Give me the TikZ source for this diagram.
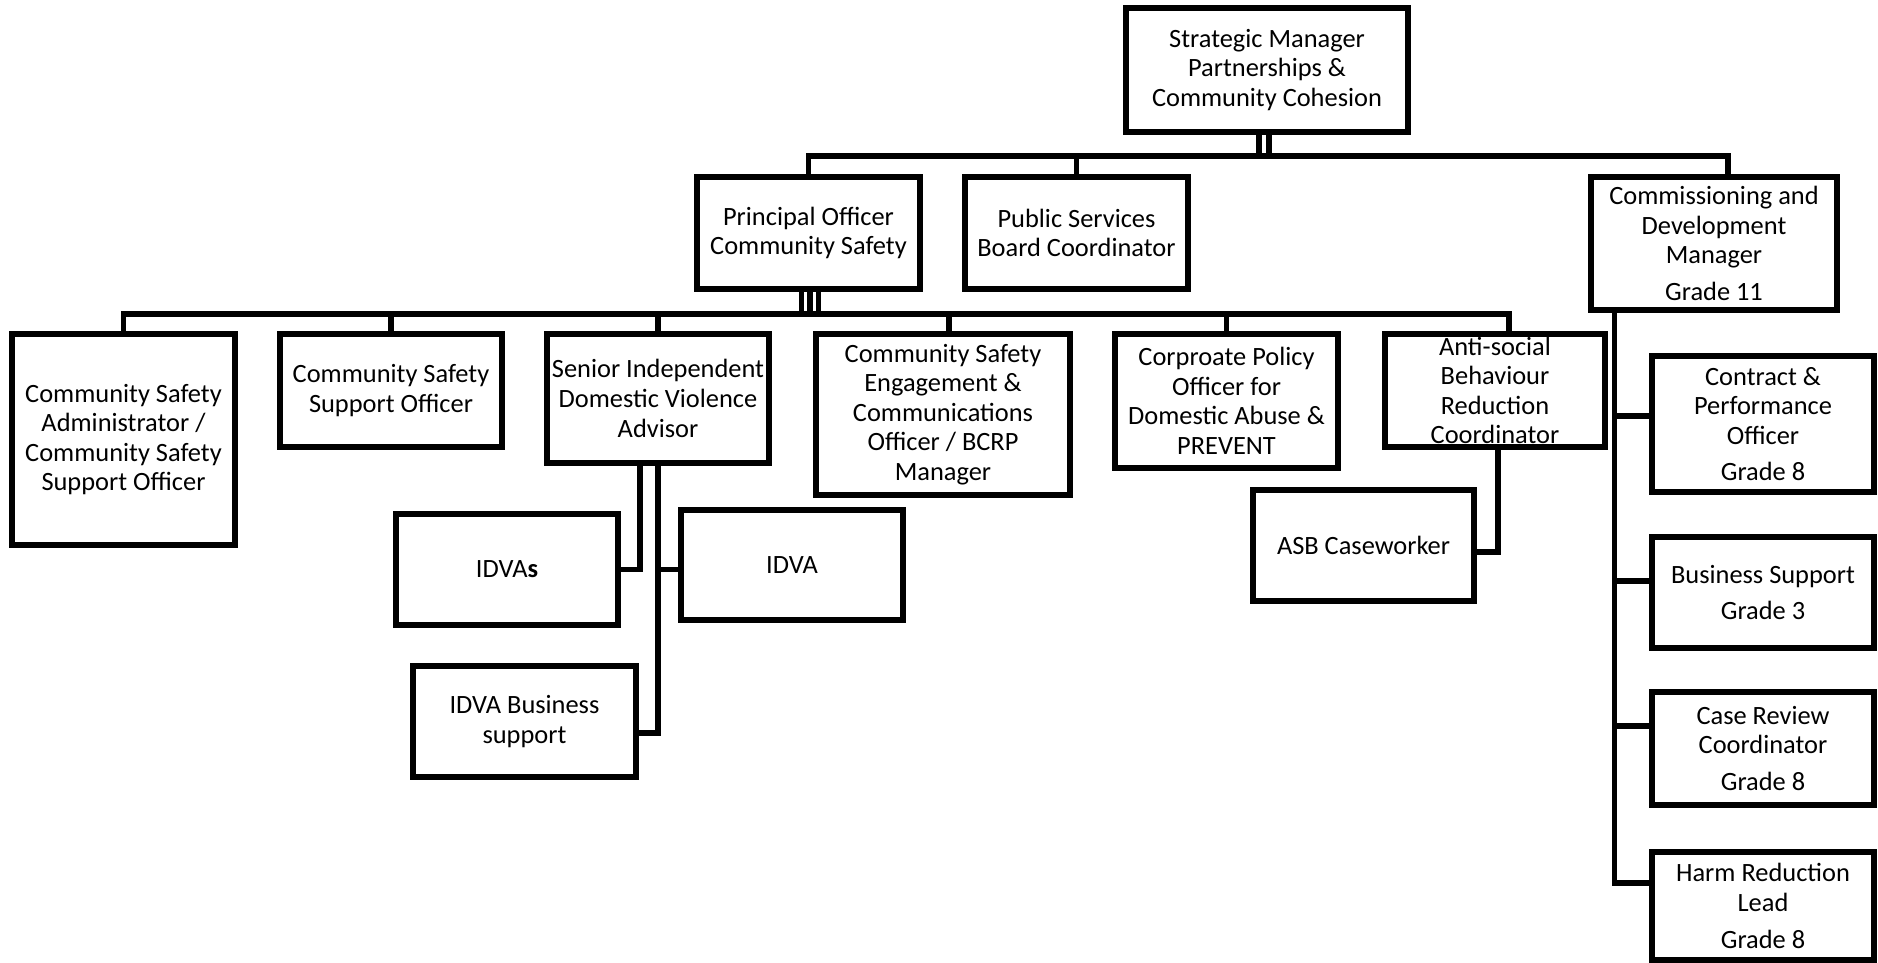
\documentclass[tikz,border=0pt]{standalone}
\usepackage{fontspec}
\setmainfont{Carlito}
\usetikzlibrary{calc}
\tikzset{
	post/.style={
			draw=black, line width=2.6pt, align=center, inner sep=0pt,
			font=\fontsize{13.2}{14.8}\selectfont
		},
	link/.style={black, line width=2.6pt}
}

\begin{document}
\begin{tikzpicture}[x=0.5pt, y=-0.5pt]
		\useasboundingbox (0,0) rectangle (1878,963);
		\node [post, minimum width=141pt, minimum height=62pt]		(strat) at (1267,70) {Strategic Manager\\Partnerships \&\\Community Cohesion};
		\node [post, minimum width=111.5pt, minimum height=56pt]	(principal) at (808.5,233) {Principal Officer\\Community Safety};
		\node [post, minimum width=111.5pt, minimum height=56pt]	(psb) at (1076.5,233) {Public Services\\Board Coordinator};
		\node [post, minimum width=123pt, minimum height=66.5pt]	(comm) at (1714,243.5) {Commissioning and\\Development\\Manager\\[3.5pt]Grade 11};
		\node [post, minimum width=111.5pt, minimum height=105.5pt]	(admin) at (123.5,439.5) {Community Safety\\Administrator /\\Community Safety\\Support Officer};
		\node [post, minimum width=111pt, minimum height=56.5pt]	(support) at (391,390.5) {Community Safety\\Support Officer};
		\node [post, minimum width=111pt, minimum height=64.5pt]	(sidva) at (658,398.5) {Senior Independent\\Domestic Violence\\Advisor};
		\node [post, minimum width=127pt, minimum height=80.5pt]	(engage) at (943,414.5) {Community Safety\\Engagement \&\\Communications\\Officer / BCRP\\Manager};
		\node [post, minimum width=111.5pt, minimum height=67pt]	(policy) at (1226.5,401) {Corproate Policy\\Officer for\\Domestic Abuse \&\\PREVENT};
		\node [post, minimum width=110pt, minimum height=56.5pt]	(asbc) at (1495,390.5) {Anti-social\\Behaviour\\Reduction\\Coordinator};
		\node [post, minimum width=111pt, minimum height=55.5pt]	(idvas) at (507,569.5) {IDVA\textbf{s}};
		\node [post, minimum width=111pt, minimum height=55pt]		(idva) at (792,565) {IDVA};
		\node [post, minimum width=111.5pt, minimum height=55.5pt]	(idvabiz) at (524.5,721.5) {IDVA Business\\support};
		\node [post, minimum width=110.5pt, minimum height=55.5pt]	(asbcw) at (1363.5,545.5) {ASB Caseworker};
		\node [post, minimum width=111pt, minimum height=68pt]		(contract) at (1763,424) {Contract \&\\Performance\\Officer\\[3.5pt]Grade 8};
		\node [post, minimum width=111pt, minimum height=55.5pt]	(bizsup) at (1763,592.5) {Business Support\\[3.5pt]Grade 3};
		\node [post, minimum width=111pt, minimum height=56.5pt]	(review) at (1763,748.5) {Case Review\\Coordinator\\[3.5pt]Grade 8};
		\node [post, minimum width=111pt, minimum height=54pt]		(harm) at (1763,906) {Harm Reduction\\Lead\\[3.5pt]Grade 8};

		% first level
		\coordinate (lvl1) at (1267,156);
		\foreach \dx in {-8,2}
			\draw [link] ($(strat.south)+(\dx,0)$) -- ($(strat.south |- lvl1)+(\dx,0)$);
		\draw [link] (principal.north) -- (principal.north |- lvl1) -- ($(comm.north |- lvl1)+(14,0)$) -- ($(comm.north)+(14,0)$);
		\draw [link] (psb.north) -- (psb.north |- lvl1);

		% community safety team
		\coordinate (lvl2) at (808,314);
		\foreach \dx in {-7,1.5,10}
			\draw [link] ($(principal.south)+(\dx,0)$) -- ($(principal.south |- lvl2)+(\dx,0)$);
		\draw [link] (admin.north) -- (admin.north |- lvl2) -- ($(asbc.north |- lvl2)+(14,0)$) -- ($(asbc.north)+(14,0)$);
		\foreach \n in {support,sidva,policy}
			\draw [link] (\n.north) -- (\n.north |- lvl2);
		\draw [link] ($(engage.north)+(6,0)$) -- ($(engage.north |- lvl2)+(6,0)$);

		\draw [link] ($(sidva.south)+(-18,0)$) |- (idvas.east);
		\draw [link] (sidva.south) |- ($(idvabiz.east)+(0,11.5)$);
		\draw [link] (sidva.south |- idvas.east) -- (idva.west |- idvas.east);
		\draw [link] ($(asbc.south)+(3,0)$) |- ($(asbcw.east)+(0,6.5)$);

		% commissioning team
		\coordinate (cspine) at ($(comm.south west)+(26,0)$);
		\draw [link] (cspine) |- ($(contract.west)+(0,-8)$);
		\draw [link] (cspine) |- ($(bizsup.west)+(0,-11.5)$);
		\draw [link] (cspine) |- ($(review.west)+(0,-22.5)$);
		\draw [link] (cspine) |- ($(harm.west)+(0,-23)$);
	\end{tikzpicture}
\end{document}
